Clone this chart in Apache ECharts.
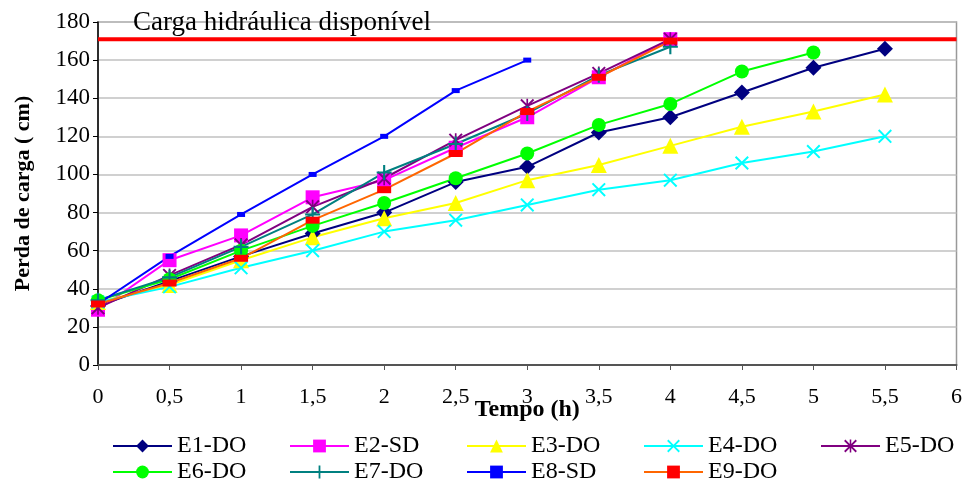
<!DOCTYPE html>
<html lang="pt">
<head>
  <meta charset="UTF-8">
  <title>Perda de carga x Tempo</title>
  <script src="https://cdn.jsdelivr.net/npm/echarts@6/dist/echarts.min.js"></script>
  <style>
    body { margin: 0; background: #fff; }
  </style>
</head>
<body>
  <div id="chart" style="width:965px;height:485px;"></div>
</body>
</html>
<script type="text/javascript">
  // tempos (h) e perdas de carga (cm)
  let tempos = [0, 0.5, 1, 1.5, 2, 2.5, 3, 3.5, 4, 4.5, 5, 5.5];
  let e1 = [31, 44, 57, 69, 80, 96, 104, 122, 130, 143, 156, 166];
  let e2 = [29, 55, 68, 88, 97, 114, 130, 151, 171];
  let e3 = [33, 42, 55, 67, 77, 85, 97, 105, 115, 125, 133, 142];
  let e4 = [33, 41, 51, 60, 70, 76, 84, 92, 97, 106, 112, 120];
  let e5 = [30, 47, 63, 83, 98, 118, 136, 153, 171];
  let e6 = [34, 45, 60, 73, 85, 98, 111, 126, 137, 154, 164];
  let e7 = [34, 46, 62, 79, 101, 116, 132, 152, 167];
  let e8 = [32, 57, 79, 100, 120, 144, 160];
  let e9 = [32, 43, 56, 76, 92, 111, 133, 151, 170];
  let cargaDisponivel = 171;
  let nomes = ['E1-DO', 'E2-SD', 'E3-DO', 'E4-DO', 'E5-DO', 'E6-DO', 'E7-DO', 'E8-SD', 'E9-DO'];

  const fonte = "'Liberation Serif', 'Times New Roman', serif";
  const xis = 'path://M0,1L1,0L5,4L9,0L10,1L6,5L10,9L9,10L5,6L1,10L0,9L4,5Z';
  const asterisco = 'path://M0,1L1,0L5,4L9,0L10,1L6,5L10,9L9,10L5,6L1,10L0,9L4,5Z M4.4,0L5.6,0L5.6,10L4.4,10Z';
  const mais = 'path://M4.3,0L5.7,0L5.7,4.3L10,4.3L10,5.7L5.7,5.7L5.7,10L4.3,10L4.3,5.7L0,5.7L0,4.3L4.3,4.3Z';

  function pares(valores) {
    return valores.map((v, i) => [tempos[i], v]);
  }

  function serie(nome, valores, cor, simbolo, tamanho, corSimbolo) {
    return {
      name: nome,
      type: 'line',
      data: pares(valores),
      symbol: simbolo,
      symbolSize: tamanho,
      showAllSymbol: true,
      lineStyle: { width: 2, color: cor },
      itemStyle: { color: corSimbolo || cor, opacity: 1 },
      emphasis: { disabled: true }
    };
  }

  let chart = echarts.init(document.getElementById('chart'));
  let option = {
    animation: false,
    title: {
      text: 'Carga hidráulica disponível',
      left: 133,
      top: 9,
      padding: 0,
      textStyle: { fontFamily: fonte, fontSize: 27, fontWeight: 'normal', color: '#000' }
    },
    legend: {
      data: nomes,
      left: 112,
      width: 900,
      top: 434,
      padding: 0,
      itemWidth: 59,
      itemHeight: 16,
      itemGap: 2,
      textStyle: {
        fontFamily: fonte, fontSize: 24, color: '#000',
        width: 110, overflow: 'truncate', lineHeight: 24
      }
    },
    grid: {
      left: 98,
      right: 8,
      top: 22,
      bottom: 120,
      show: true,
      borderColor: '#999',
      borderWidth: 1.5
    },
    xAxis: {
      type: 'value',
      min: 0,
      max: 6,
      interval: 0.5,
      name: 'Tempo (h)',
      nameLocation: 'middle',
      nameGap: 33,
      nameMoveOverlap: false,
      nameTextStyle: { fontFamily: fonte, fontSize: 24, fontWeight: 'bold', color: '#000' },
      axisLine: { lineStyle: { color: '#555', width: 2 } },
      axisTick: { show: true, length: 5, inside: false, lineStyle: { color: '#555' } },
      axisLabel: {
        margin: 21,
        fontFamily: fonte, fontSize: 22, color: '#000',
        formatter: v => String(v).replace('.', ',')
      },
      splitLine: { show: false }
    },
    yAxis: {
      type: 'value',
      min: 0,
      max: 180,
      interval: 20,
      name: 'Perda de carga ( cm)',
      nameLocation: 'middle',
      nameGap: 64,
      nameMoveOverlap: false,
      nameTextStyle: { fontFamily: fonte, fontSize: 22, fontWeight: 'bold', color: '#000' },
      axisLine: { show: true, lineStyle: { color: '#000', width: 1.5 } },
      axisTick: { show: true, length: 5, lineStyle: { color: '#000' } },
      axisLabel: { margin: 8, fontFamily: fonte, fontSize: 23, color: '#000' },
      splitLine: { show: true, lineStyle: { color: '#c0c0c0', width: 1.5 } }
    },
    series: [
      {
        name: 'Carga hidráulica disponível',
        type: 'line',
        data: [[0, cargaDisponivel], [6, cargaDisponivel]],
        symbol: 'none',
        lineStyle: { width: 4, color: '#ff0000' },
        emphasis: { disabled: true },
        z: 1
      },
      serie(nomes[0], e1, '#000080', 'diamond', 16),
      serie(nomes[1], e2, '#ff00ff', 'rect', 14),
      serie(nomes[2], e3, '#ffff00', 'triangle', 16),
      serie(nomes[3], e4, '#00ffff', xis, 14),
      serie(nomes[4], e5, '#800080', asterisco, 14),
      serie(nomes[5], e6, '#00ff00', 'circle', 14),
      serie(nomes[6], e7, '#008080', mais, 15),
      serie(nomes[7], e8, '#0000ff', 'rect', [8, 5]),
      serie(nomes[8], e9, '#ff6600', 'rect', [14, 7], '#ff0000')
    ]
  };
  chart.setOption(option);
</script>
